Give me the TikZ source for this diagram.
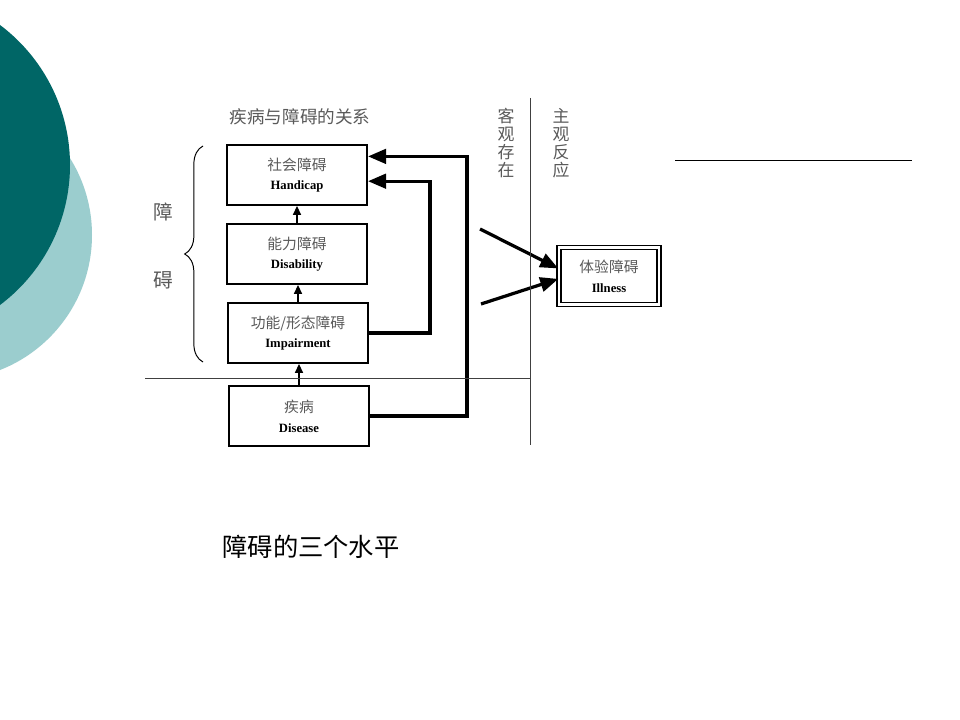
\documentclass[tikz,border=0pt]{standalone}
\usepackage{fontspec}
\setmainfont{Liberation Serif}
\newfontfamily\cjk{Noto Sans CJK SC}
\usetikzlibrary{arrows.meta,calc,decorations.pathreplacing}
\definecolor{tealdark}{RGB}{0,102,102}
\definecolor{teallight}{RGB}{155,205,206}
\definecolor{inkgrey}{RGB}{90,90,90}
\newcommand{\twolines}[2]{{\cjk\fontsize{10.5}{12}\selectfont\color{inkgrey}#1}\\[2pt]{\bfseries\fontsize{9}{10}\selectfont #2}}
\tikzset{
  level/.style={draw, line width=1.4pt, minimum width=3.5cm, minimum height=1.5cm, align=center, inner sep=0pt},
  feed/.style={line width=2.3pt, -{Triangle[length=4.5mm,width=3.6mm]}},
  step up/.style={line width=0.8pt, -{Triangle[length=2.2mm,width=2mm]}},
  sepline/.style={line width=0.6pt, draw=black!75},
  columntext/.style={align=center, text=inkgrey, font=\cjk\fontsize{12}{12.8}\selectfont},
}
\begin{document}
\begin{tikzpicture}[x=0.025cm, y=-0.025cm]
	\clip (0,0) rectangle (960,720);
	\fill[white] (0,0) rectangle (960,720);
	% background circles
	\fill[teallight] (-53,235) circle (145);
	\fill[tealdark] (-105,165) circle (175);
	
	\node at (300,117) (title) {\cjk\fontsize{12.5}{14}\selectfont\color{inkgrey}疾病与障碍的关系};
	
	\node[level] at (297,175) (handicap) {\twolines{社会障碍}{Handicap}};
	\node[level] at (297,254) (disability) {\twolines{能力障碍}{Disability}};
	\node[level] at (298,333) (impairment) {\twolines{功能/形态障碍}{Impairment}};
	\node[level] at (299,416) (disease) {\twolines{疾病}{Disease}};
	
	\node[draw, double, double distance=1.6pt, line width=1pt, minimum width=2.5cm, minimum height=1.42cm, align=center, inner sep=0pt] at (609,276) (illness) {\twolines{体验障碍}{Illness}};
	
	\draw [step up] (disability.north) -- (disability.north |- handicap.south);
	\draw [step up] (impairment.north) -- (impairment.north |- disability.south);
	\draw [step up] (disease.north) -- (disease.north |- impairment.south);
	
	\coordinate (hc1) at ($(handicap.north east)!0.2!(handicap.south east)$);
	\coordinate (hc2) at ($(handicap.north east)!0.6!(handicap.south east)$);
	\coordinate (outer) at (467,157);
	\coordinate (inner) at (430,182);
	\draw [feed] (disease.east) -| (outer |- hc1) -- (hc1);
	\draw [feed] (impairment.east) -| (inner |- hc2) -- (hc2);
	
	\coordinate (from1) at (480,229);
	\coordinate (from2) at (481,304);
	\draw [feed] (from1) -- ($(illness.north west)!0.37!(illness.south west)$);
	\draw [feed] (from2) -- ($(illness.north west)!0.55!(illness.south west)$);
	
	% separators
	\coordinate (hl) at (145,378);
	\coordinate (hr) at (530,378);
	\coordinate (vt) at (530,98);
	\coordinate (vb) at (530,445);
	\draw [sepline] (hl) -- (hr);
	\draw [sepline] (vt) -- (vb);
	
	\node[columntext] at (506,143) (objective) {客\\观\\存\\在};
	\node[columntext] at (561,143) (subjective) {主\\观\\反\\应};
	
	\draw [decorate, decoration={brace, amplitude=13pt}, line width=0.7pt] (203,362) -- (203,146);
	\node[font=\cjk\fontsize{14}{16}\selectfont, text=inkgrey] at (163,212) (zhang) {障};
	\node[font=\cjk\fontsize{14}{16}\selectfont, text=inkgrey] at (163,280) (ai) {碍};
	
	\coordinate (ul) at (675,160);
	\coordinate (ur) at (912,160);
	\draw [line width=0.7pt] (ul) -- (ur);
	
	\node at (311,547) (caption) {\cjk\fontsize{18}{20}\selectfont 障碍的三个水平};
\end{tikzpicture}
\end{document}
